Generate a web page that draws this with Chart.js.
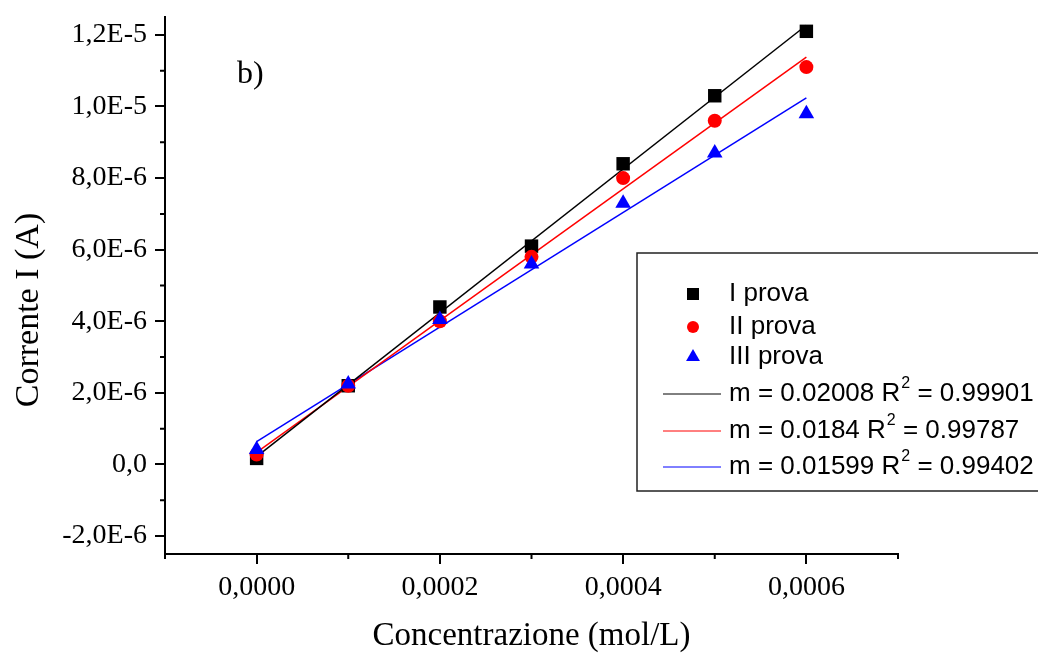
<!DOCTYPE html>
<html>
<head>
<meta charset="utf-8">
<script src="https://cdn.jsdelivr.net/npm/chart.js@4.4.0/dist/chart.umd.min.js"></script>
<style>
  html, body { margin: 0; padding: 0; background: #fff; }
</style>
</head>
<body>
<canvas id="chart" width="1038" height="653"></canvas>
<script>
// dati
const concentrazione = [0, 0.0001, 0.0002, 0.0003, 0.0004, 0.0005, 0.0006];
const provaI   = [0.17e-6, 2.2e-6, 4.4e-6, 6.1e-6, 8.4e-6, 10.3e-6, 12.1e-6];
const provaII  = [0.28e-6, 2.2e-6, 4.0e-6, 5.8e-6, 8.0e-6, 9.6e-6, 11.1e-6];
const provaIII = [0.42e-6, 2.25e-6, 4.05e-6, 5.6e-6, 7.3e-6, 8.7e-6, 9.8e-6];

// rette di regressione: estremi a x = 0 e x = 0,0006
const fitX     = [0, 0.0006];
const fitI     = [0.22e-6, 12.27e-6];
const fitII    = [0.34e-6, 11.38e-6];
const fitIII   = [0.64e-6, 10.24e-6];

const seriesNames = ["I prova", "II prova", "III prova"];
const fitSlopes = ["0.02008", "0.0184", "0.01599"];
const fitR2 = ["0.99901", "0.99787", "0.99402"];

const xTickValues = [0, 0.0002, 0.0004, 0.0006];
const xTickLabels = ["0,0000", "0,0002", "0,0004", "0,0006"];
const xMinorValues = [-0.0001, 0.0001, 0.0003, 0.0005, 0.0007];
const yTickValues = [-2e-6, 0, 2e-6, 4e-6, 6e-6, 8e-6, 10e-6, 12e-6];
const yTickLabels = ["-2,0E-6", "0,0", "2,0E-6", "4,0E-6", "6,0E-6", "8,0E-6", "1,0E-5", "1,2E-5"];
const yMinorValues = [-1e-6, 1e-6, 3e-6, 5e-6, 7e-6, 9e-6, 11e-6];

const colors = ["#000000", "#ff0000", "#0000ff"];
const styles = ["rect", "circle", "triangle"];
const radii = [9.5, 7, 9];

const pts = (xs, ys) => xs.map((x, i) => ({ x: x, y: ys[i] }));

const serif = "'Liberation Serif', 'Times New Roman', serif";
const sans = "'Liberation Sans', Arial, sans-serif";

function labelFor(values, labels, v) {
  for (let i = 0; i < values.length; i++) {
    if (Math.abs(values[i] - v) < Math.abs(values[1] - values[0]) * 1e-3) return labels[i];
  }
  return "";
}

const extras = {
  id: "extras",
  afterDraw(chart) {
    const ctx = chart.ctx;
    const xs = chart.scales.x, ys = chart.scales.y;
    const area = chart.chartArea;
    ctx.save();
    // tacche minori
    ctx.strokeStyle = "#000";
    ctx.lineWidth = 2;
    ctx.beginPath();
    xMinorValues.forEach(v => {
      const px = xs.getPixelForValue(v);
      ctx.moveTo(px, area.bottom);
      ctx.lineTo(px, area.bottom + 5);
    });
    yMinorValues.forEach(v => {
      const py = ys.getPixelForValue(v);
      ctx.moveTo(area.left, py);
      ctx.lineTo(area.left - 5, py);
    });
    ctx.stroke();

    // titoli degli assi
    ctx.fillStyle = "#000";
    ctx.font = "33px " + serif;
    ctx.textAlign = "center";
    ctx.textBaseline = "alphabetic";
    ctx.fillText("Concentrazione (mol/L)", (area.left + area.right) / 2, 645);
    ctx.save();
    ctx.translate(38, 310);
    ctx.rotate(-Math.PI / 2);
    ctx.font = "34px " + serif;
    ctx.fillText("Corrente I (A)", 0, 0);
    ctx.restore();

    // etichetta del pannello
    ctx.textAlign = "left";
    ctx.font = "32px " + serif;
    ctx.fillText("b)", 237, 83);

    // legenda
    ctx.fillStyle = "#fff";
    ctx.fillRect(637, 253, 410, 238);
    ctx.strokeStyle = "#222";
    ctx.lineWidth = 1.5;
    ctx.strokeRect(637, 253, 410, 238);

    const rowsPts = [294, 327, 357];
    const rowsFit = [394, 431, 467];
    ctx.textBaseline = "middle";
    ctx.font = "26px " + sans;
    for (let i = 0; i < 3; i++) {
      ctx.fillStyle = colors[i];
      Chart.helpers.drawPoint(ctx, { pointStyle: styles[i], radius: radii[i] - 1, rotation: 0, borderWidth: 0 }, 693, rowsPts[i]);
      ctx.fillStyle = "#000";
      ctx.fillText(seriesNames[i], 729, rowsPts[i]);
    }
    for (let i = 0; i < 3; i++) {
      const y = rowsFit[i];
      ctx.strokeStyle = colors[i];
      ctx.lineWidth = 1;
      ctx.beginPath();
      ctx.moveTo(663, y);
      ctx.lineTo(721, y);
      ctx.stroke();
      ctx.fillStyle = "#000";
      ctx.font = "26px " + sans;
      let tx = 729;
      const a = "m = " + fitSlopes[i] + " R";
      ctx.fillText(a, tx, y);
      tx += ctx.measureText(a).width;
      ctx.font = "16px " + sans;
      ctx.fillText("2", tx + 1, y - 10);
      tx += ctx.measureText("2").width + 1;
      ctx.font = "26px " + sans;
      ctx.fillText(" = " + fitR2[i], tx, y);
    }
    ctx.restore();
  }
};

const scatterSet = (label, ys, i) => ({
  label: label,
  type: "scatter",
  data: pts(concentrazione, ys),
  pointStyle: styles[i],
  pointRadius: radii[i],
  pointHoverRadius: radii[i],
  pointBackgroundColor: colors[i],
  pointBorderWidth: 0,
  borderColor: colors[i],
  backgroundColor: colors[i],
  showLine: false,
  order: 2 - i
});

const fitSet = (ys, i) => ({
  type: "line",
  data: pts(fitX, ys),
  borderColor: colors[i],
  borderWidth: 1.5,
  pointRadius: 0,
  fill: false,
  tension: 0,
  order: 5 + i
});

new Chart(document.getElementById("chart"), {
  type: "scatter",
  data: {
    datasets: [
      scatterSet(seriesNames[0], provaI, 0),
      scatterSet(seriesNames[1], provaII, 1),
      scatterSet(seriesNames[2], provaIII, 2),
      fitSet(fitI, 0),
      fitSet(fitII, 1),
      fitSet(fitIII, 2)
    ]
  },
  options: {
    responsive: false,
    animation: false,
    events: [],
    layout: { padding: { top: 17, right: 140, left: 0, bottom: 0 } },
    plugins: { legend: { display: false }, tooltip: { enabled: false } },
    scales: {
      x: {
        type: "linear",
        min: -0.0001,
        max: 0.0007,
        afterBuildTicks: s => { s.ticks = xTickValues.map(v => ({ value: v })); },
        afterFit: s => { s.height = 99; s.paddingLeft = 0; s.paddingRight = 0; },
        border: { display: true, color: "#000", width: 2 },
        grid: { drawOnChartArea: false, drawTicks: true, tickLength: 10, color: "#000", lineWidth: 2 },
        ticks: {
          autoSkip: false,
          maxRotation: 0,
          padding: 7,
          color: "#000",
          font: { family: serif, size: 28 },
          callback: v => labelFor(xTickValues, xTickLabels, v)
        }
      },
      y: {
        type: "linear",
        min: -2.5e-6,
        max: 1.25e-5,
        afterBuildTicks: s => { s.ticks = yTickValues.map(v => ({ value: v })); },
        afterFit: s => { s.width = 165; s.paddingTop = 0; s.paddingBottom = 0; },
        border: { display: true, color: "#000", width: 2 },
        grid: { drawOnChartArea: false, drawTicks: true, tickLength: 10, color: "#000", lineWidth: 2 },
        ticks: {
          autoSkip: false,
          padding: 8,
          color: "#000",
          font: { family: serif, size: 28 },
          callback: v => labelFor(yTickValues, yTickLabels, v)
        }
      }
    }
  },
  plugins: [extras]
});
</script>
</body>
</html>
